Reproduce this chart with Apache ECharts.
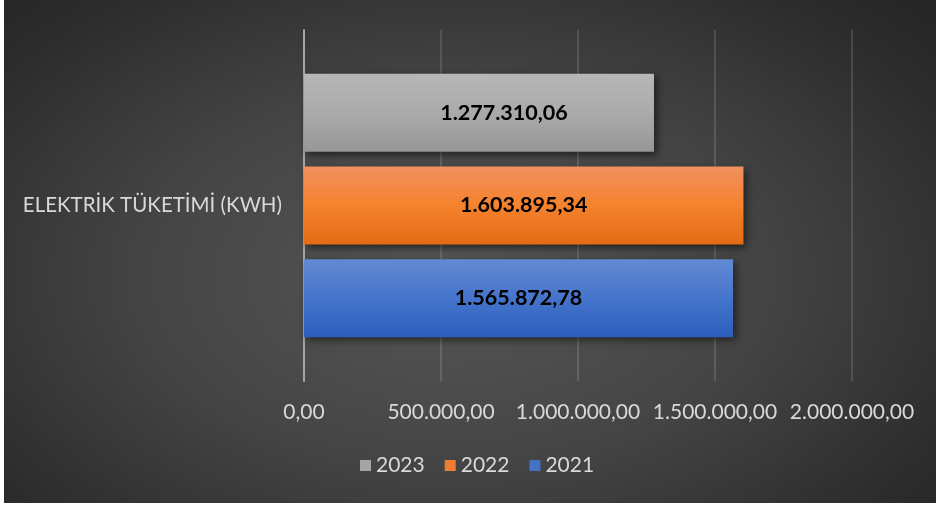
<!DOCTYPE html>
<html>
<head>
<meta charset="utf-8">
<script src="https://cdn.jsdelivr.net/npm/echarts@6/dist/echarts.min.js"></script>
<style>
  html, body { margin: 0; padding: 0; background: #ffffff; }
  #chart {
    position: absolute; left: 4px; top: 0; width: 932px; height: 503px;
    background: radial-gradient(ellipse 75% 85% at 48% 55%, #575757 0%, #444444 45%, #2c2c2c 80%, #222222 100%);
  }
</style>
</head>
<body>
<div id="chart"></div>
<script>
(function () {
    'use strict';

    var categories = ['ELEKTRİK TÜKETİMİ (KWH)'];
    var years = ['2023', '2022', '2021'];
    var values2021 = [1565872.78];
    var values2022 = [1603895.34];
    var values2023 = [1277310.06];
    var xTicks = { min: 0, max: 2000000, interval: 500000 };

    var FONT = 'Lato, "Open Sans", sans-serif';

    // Turkce sayi bicimi: 1.234.567,89
    function fmtTR(v) {
        var parts = Number(v).toFixed(2).split('.');
        parts[0] = parts[0].replace(/\B(?=(\d{3})+(?!\d))/g, '.');
        return parts[0] + ',' + parts[1];
    }

    function grad(c0, c1, c2) {
        return new echarts.graphic.LinearGradient(0, 0, 0, 1, [
            { offset: 0, color: c0 },
            { offset: 0.5, color: c1 },
            { offset: 1, color: c2 }
        ]);
    }

    var styles = {
        '2021': { fill: grad('#6389d2', '#4574cc', '#2d5ebd'), legend: '#4472c4' },
        '2022': { fill: grad('#f1915e', '#f5822d', '#e46b16'), legend: '#ed7d31' },
        '2023': { fill: grad('#b7b7b7', '#aaaaaa', '#979797'), legend: '#a5a5a5' }
    };
    var dataByYear = { '2021': values2021, '2022': values2022, '2023': values2023 };

    // ilk seri en ustte cizilir
    var series = years.map(function (y) {
        return {
            name: y,
            type: 'bar',
            barWidth: 78,
            barGap: '19%',
            data: dataByYear[y],
            itemStyle: {
                color: styles[y].fill,
                shadowBlur: 8,
                shadowColor: 'rgba(0,0,0,0.55)',
                shadowOffsetX: 3,
                shadowOffsetY: 3
            },
            label: {
                show: true,
                position: 'inside',
                offset: y === '2023' ? [25, 0] : [0, 0],
                color: '#000000',
                fontFamily: FONT,
                fontWeight: 'bold',
                fontSize: 21.5,
                formatter: function (p) { return fmtTR(p.value); }
            }
        };
    });

    var chart = echarts.init(document.getElementById('chart'));
    chart.setOption({
        backgroundColor: 'transparent',
        animation: false,
        grid: { left: 300, right: 84, top: 30, height: 351 },
        legend: {
            data: years.map(function (y) {
                return { name: y, itemStyle: { color: styles[y].legend } };
            }),
            left: 356,
            top: 455,
            padding: 0,
            icon: 'rect',
            itemWidth: 11,
            itemHeight: 11,
            itemGap: 20,
            textStyle: { color: '#d9d9d9', fontFamily: FONT, fontSize: 21 }
        },
        xAxis: {
            type: 'value',
            min: xTicks.min,
            max: xTicks.max,
            interval: xTicks.interval,
            axisLine: { show: false },
            axisTick: { show: false },
            splitLine: { lineStyle: { color: 'rgba(255,255,255,0.13)', width: 2 } },
            axisLabel: {
                color: '#d9d9d9',
                fontFamily: FONT,
                fontSize: 21,
                margin: 21,
                formatter: fmtTR
            }
        },
        yAxis: {
            type: 'category',
            data: categories,
            axisLine: { show: true, lineStyle: { color: '#a6a6a6', width: 2 } },
            axisTick: { show: false },
            axisLabel: {
                color: '#d9d9d9',
                fontFamily: FONT,
                fontSize: 20.5,
                margin: 22
            }
        },
        series: series
    });
})();
</script>
</body>
</html>
